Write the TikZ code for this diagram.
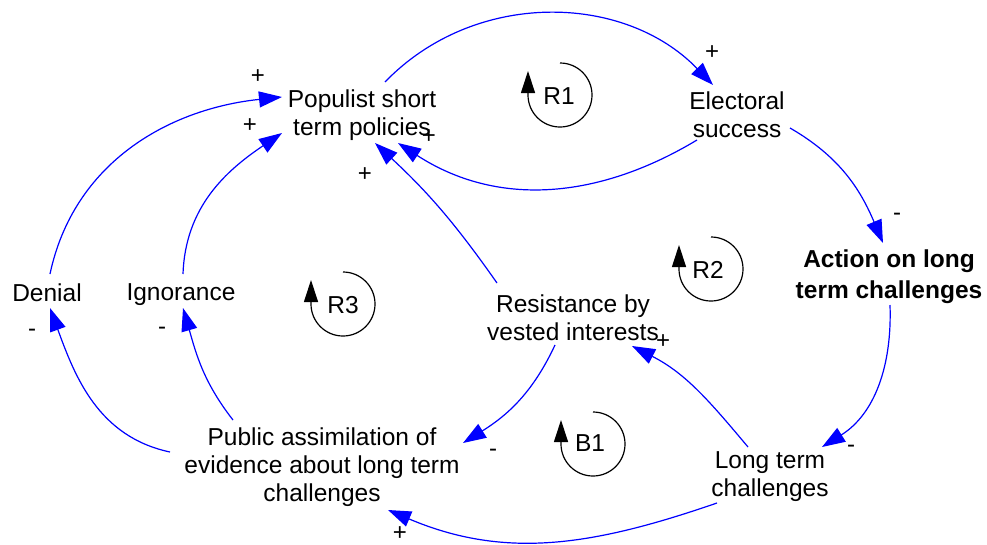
\documentclass[tikz,border=0pt]{standalone}
\usepackage{fontspec}
\setmainfont{Liberation Sans}
\usetikzlibrary{arrows.meta}
\begin{document}
\begin{tikzpicture}[x=1pt,y=1pt,
  lbl/.style={align=center, inner sep=0pt, font=\fontsize{24.5}{28}\selectfont},
  sgn/.style={inner sep=0pt, font=\fontsize{24}{28}\selectfont},
  link/.style={draw=blue, line width=1.2pt, -{Triangle[length=23pt,width=16pt]}},
  loopsym/.style={draw=black, line width=1.2pt, -{Triangle[length=22pt,width=14pt]}},
]
\useasboundingbox (0,0) rectangle (987,-544);
\fill[white] (0,0) rectangle (987,-544);

% variables
\node[lbl] (pop) at (362,-115) {Populist short\\term policies};
\node[lbl] (ele) at (737,-115) {Electoral\\success};
\node[lbl, font=\bfseries\fontsize{24.5}{31}\selectfont] (act) at (889,-277) {Action on long\\term challenges};
\node[lbl] (den) at (47,-293) {Denial};
\node[lbl] (ign) at (181,-295) {Ignorance};
\node[lbl] (res) at (573,-318) {Resistance by\\vested interests};
\node[lbl] (pub) at (322,-467) {Public assimilation of\\evidence about long term\\challenges};
\node[lbl] (ltc) at (770,-477) {Long term\\challenges};

% loop markers
\node[lbl] (r1) at (559,-96) {R1};
\node[lbl] (r2) at (708,-270) {R2};
\node[lbl] (r3) at (343,-305) {R3};
\node[lbl] (b1) at (590,-443) {B1};
\draw[loopsym] ([shift={(1,33)}]r1.center) arc[start angle=90, end angle=-180, radius=32] -- ++(0,24);
\draw[loopsym] ([shift={(3,33)}]r2.center) arc[start angle=90, end angle=-180, radius=32] -- ++(0,24);
\draw[loopsym] ([shift={(0,33)}]r3.center) arc[start angle=90, end angle=-180, radius=32] -- ++(0,24);
\draw[loopsym] ([shift={(3,31)}]b1.center) arc[start angle=90, end angle=-180, radius=32] -- ++(0,24);

% links
\draw[link] ([shift={(23,33)}]pop.center) to[out=46,in=134] ([shift={(-24,30)}]ele.center);
\draw[link] ([shift={(-40,-25)}]ele.center) to[out=211,in=-33] ([shift={(36,-28)}]pop.center);
\draw[link] ([shift={(-76,35)}]res.center) to[bend right=6] ([shift={(13,-28)}]pop.center);
\draw[link] ([shift={(3,19)}]den.center) to[out=78,in=186] ([shift={(-80,18)}]pop.center);
\draw[link] ([shift={(2,21)}]ign.center) to[out=88,in=214] ([shift={(-80,-18)}]pop.center);
\draw[link] ([shift={(-152,15)}]pub.center) to[out=168,in=-70] ([shift={(3,-15)}]den.center);
\draw[link] ([shift={(-89,47)}]pub.center) to[out=128,in=-74] ([shift={(2,-13)}]ign.center);
\draw[link] ([shift={(-18,-27)}]res.center) to[out=245,in=32] ([shift={(141,24)}]pub.center);
\draw[link] ([shift={(-22,30)}]ltc.center) to[out=130,in=-27] ([shift={(59,-28)}]res.center);
\draw[link] ([shift={(-53,-26)}]ltc.center) to[out=199,in=-23] ([shift={(66,-43)}]pub.center);
\draw[link] ([shift={(53,-13)}]ele.center) to[out=-30,in=113] ([shift={(-6,34)}]act.center);
\draw[link] ([shift={(1,-28)}]act.center) to[out=-88,in=32] ([shift={(52,30)}]ltc.center);

% polarities
\node[sgn] (s1) at (712,-53) {+};
\node[sgn] (s2) at (429,-137) {+};
\node[sgn] (s3) at (365,-175) {+};
\node[sgn] (s4) at (258,-77) {+};
\node[sgn] (s5) at (250,-126) {+};
\node[sgn] (s6) at (32,-333) {-};
\node[sgn] (s7) at (162,-331) {-};
\node[sgn] (s8) at (493,-453) {-};
\node[sgn] (s9) at (663,-342) {+};
\node[sgn] (s10) at (400,-534) {+};
\node[sgn] (s11) at (897,-217) {-};
\node[sgn] (s12) at (851,-449) {-};
\end{tikzpicture}
\end{document}
